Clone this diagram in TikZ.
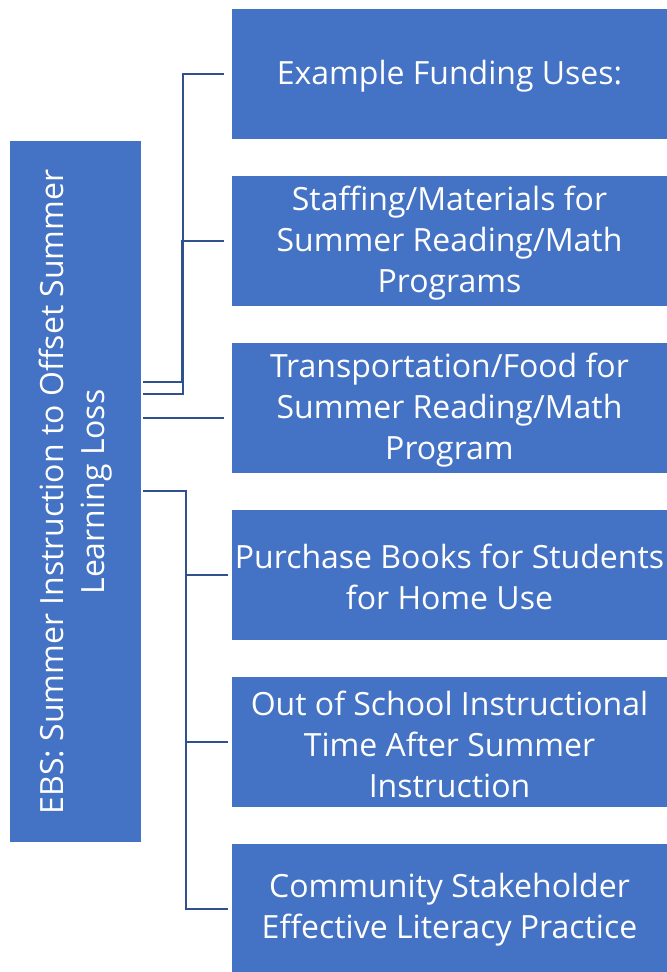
\documentclass[tikz,border=0pt]{standalone}
\usepackage{fontspec}
\setmainfont{Open Sans}
\begin{document}
\begin{tikzpicture}[x=1bp,y=-1bp,
  conn/.style={draw=lineblue, line width=2.4bp},
  txt/.style={font=\fontsize{32bp}{41bp}\selectfont, text=white, align=center, inner sep=0pt}]
\definecolor{boxblue}{HTML}{4472C4}
\definecolor{lineblue}{HTML}{2F528F}
\useasboundingbox (0,0) rectangle (667,972);
% left box
\fill[boxblue] (10,141) rectangle (141,842);
\node[txt, rotate=90] (L) at (76,492) {EBS: Summer Instruction to Offset Summer\\Learning Loss};
% right boxes
\foreach \i/\t/\b/\txtc in {1/9/139/{Example Funding Uses:},
  2/176/306/{Staffing/Materials for\\Summer Reading/Math\\Programs},
  3/343/473/{Transportation/Food for\\Summer Reading/Math\\Program},
  4/510/640/{Purchase Books for Students\\for Home Use},
  5/677/807/{Out of School Instructional\\Time After Summer\\Instruction},
  6/844/972/{Community Stakeholder\\Effective Literacy Practice}}{
  \fill[boxblue] (232,\t) rectangle (667,\b);
  \node[txt] (b\i) at (449.5,{(\t+\b)/2+2}) {\txtc};
}
\coordinate (s1) at (143,394);
\coordinate (s2) at (143,382);
\coordinate (s3) at (143,418);
\coordinate (s4) at (143,491);
\coordinate (e1) at (224,74);
\coordinate (e2) at (224,241);
\coordinate (e3) at (224,418);
\coordinate (e4) at (228,575);
\coordinate (e5) at (228,742);
\coordinate (e6) at (228,909);
\draw[conn] (s1) -- (183,394) -- (183,74) -- (e1);
\draw[conn] (s2) -- (182,382) -- (182,241) -- (e2);
\draw[conn] (s3) -- (e3);
\draw[conn] (s4) -- (186,491) -- (186,909) -- (e6);
\draw[conn] (186,575) -- (e4);
\draw[conn] (186,742) -- (e5);
\end{tikzpicture}
\end{document}
